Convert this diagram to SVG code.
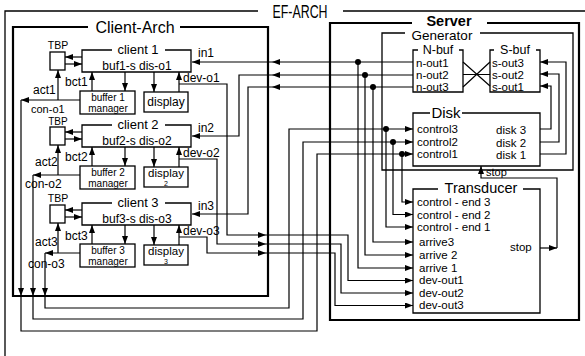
<svg xmlns="http://www.w3.org/2000/svg" width="585" height="356" viewBox="0 0 585 356">
<defs>
<marker id="a" viewBox="0 0 8 6" refX="8" refY="3" markerWidth="8" markerHeight="6" markerUnits="userSpaceOnUse" orient="auto"><path d="M0,0 L8,3 L0,6 z" fill="#000"/></marker>
</defs>
<style>
.b{fill:none;stroke:#000;stroke-width:1.3}
.k{fill:none;stroke:#000;stroke-width:2.2}
.c{fill:none;stroke:#000;stroke-width:1.2;marker-end:url(#a)}
.l{fill:none;stroke:#000;stroke-width:1.2}
text{font-family:"Liberation Sans",Arial,sans-serif;fill:#000}
.s{font-size:12px}
.m{font-size:11.5px}
.mid{text-anchor:middle}
</style>
<rect width="585" height="356" fill="#fff"/>

<g id="ef-arch">
<path class="b" d="M258,11 H5 V360 M343,11 H590"/>
<text x="300" y="18" class="mid" font-size="18" textLength="55" lengthAdjust="spacingAndGlyphs">EF-ARCH</text>
</g>

<g id="client-arch">
<path class="k" d="M88,27 H13 V296 H268 V27 H180"/>
<text x="135" y="33" class="mid" font-size="16">Client-Arch</text>
</g>

<g id="client1">
<path class="b" d="M112,50 H82 V72 H191 V50 H165"/>
<text x="138" y="54" class="mid" font-size="13">client 1</text>
<text x="137" y="70" class="mid s">buf1-s dis-o1</text>
</g>
<g id="tbp1"><rect class="b" x="50" y="52" width="15" height="18"/><text x="58" y="49" class="mid" font-size="10.5">TBP</text></g>
<g id="buffer1"><rect class="b" x="80" y="91" width="55" height="23"/><text class="mid" font-size="10"><tspan x="108" y="101">buffer 1</tspan><tspan x="108" y="112.3">manager</tspan></text></g>
<g id="display1"><rect class="b" x="144" y="92" width="44" height="20"/><text x="166" y="106" class="mid s">display</text></g>

<g id="client2">
<path class="b" d="M112,125 H82 V147 H191 V125 H165"/>
<text x="138" y="129" class="mid" font-size="13">client 2</text>
<text x="137" y="145" class="mid s">buf2-s dis-o2</text>
</g>
<g id="tbp2"><rect class="b" x="50" y="127" width="15" height="18"/><text x="58" y="124.5" class="mid" font-size="10">TBP</text></g>
<g id="buffer2"><rect class="b" x="80" y="166" width="55" height="23"/><text class="mid" font-size="10"><tspan x="108" y="176">buffer 2</tspan><tspan x="108" y="187.3">manager</tspan></text></g>
<g id="display2"><rect class="b" x="144" y="167" width="44" height="20"/><text class="mid" font-size="11.5"><tspan x="166" y="177">display</tspan><tspan x="166" y="186" font-size="7">2</tspan></text></g>

<g id="client3">
<path class="b" d="M112,203 H82 V225 H191 V203 H165"/>
<text x="138" y="207" class="mid" font-size="13">client 3</text>
<text x="137" y="223" class="mid s">buf3-s dis-o3</text>
</g>
<g id="tbp3"><rect class="b" x="50" y="205" width="15" height="18"/><text x="58" y="202" class="mid" font-size="10.5">TBP</text></g>
<g id="buffer3"><rect class="b" x="80" y="244" width="55" height="23"/><text class="mid" font-size="10"><tspan x="108" y="254">buffer 3</tspan><tspan x="108" y="265.3">manager</tspan></text></g>
<g id="display3"><rect class="b" x="144" y="245" width="44" height="20"/><text class="mid" font-size="11.5"><tspan x="166" y="255">display</tspan><tspan x="166" y="264" font-size="7">3</tspan></text></g>

<g id="server">
<path class="k" d="M412,23 H330 V320 H579 V23 H487"/>
<text x="449" y="25.5" class="mid" font-size="14.5" font-weight="bold">Server</text>
</g>
<g id="generator">
<path class="b" d="M405,33 H382 V170 H573 V33 H480"/>
<text x="442" y="40" class="mid" font-size="13.5">Generator</text>
</g>
<g id="n-buf">
<path class="b" d="M418,50 H413 V92 H463 V50 H459"/>
<text x="438" y="53.5" class="mid" font-size="12.5">N-buf</text>
<text class="m"><tspan x="416" y="66.5">n-out1</tspan><tspan x="416" y="78.5">n-out2</tspan><tspan x="416" y="90.5">n-out3</tspan></text>
</g>
<g id="s-buf">
<path class="b" d="M494,50 H490 V92 H540 V50 H536"/>
<text x="515" y="53.5" class="mid" font-size="12.5">S-buf</text>
<text class="m"><tspan x="492" y="66.5">s-out3</tspan><tspan x="492" y="78.5">s-out2</tspan><tspan x="492" y="90.5">s-out1</tspan></text>
</g>
<g id="disk">
<path class="b" d="M430,113 H413 V166 H540 V113 H462"/>
<text x="446" y="118" class="mid" font-size="15">Disk</text>
<text class="m"><tspan x="417" y="133">control3</tspan><tspan x="417" y="146">control2</tspan><tspan x="417" y="158">control1</tspan></text>
<text class="m"><tspan x="496" y="134">disk 3</tspan><tspan x="496" y="147">disk 2</tspan><tspan x="496" y="159">disk 1</tspan></text>
</g>
<g id="transducer">
<path class="b" d="M438,189 H413 V313 H540 V189 H523"/>
<text x="481" y="193" class="mid" font-size="14.5">Transducer</text>
<text class="m"><tspan x="417" y="206">control - end 3</tspan><tspan x="417" y="218.5">control - end 2</tspan><tspan x="417" y="231">control - end 1</tspan><tspan x="419" y="246">arrive3</tspan><tspan x="419" y="259">arrive 2</tspan><tspan x="419" y="271.5">arrive 1</tspan><tspan x="419" y="284">dev-out1</tspan><tspan x="419" y="296.5">dev-out2</tspan><tspan x="419" y="309">dev-out3</tspan></text>
<text x="510" y="251" class="m">stop</text>
</g>

<g id="connectors">
<path class="c" d="M82,57 H65"/>
<path class="c" d="M65,64 H82"/>
<path class="c" d="M92,91 V72"/>
<path class="c" d="M125,72 V91"/>
<path class="c" d="M154,72 V92"/>
<path class="c" d="M179,92 V72"/>
<path class="c" d="M179,84 H227 V235 H266"/>
<path class="c" d="M58,100 V70"/>
<path class="c" d="M80,100 H21"/>
<path class="c" d="M21,100 V296"/>
<path class="c" d="M82,132 H65"/>
<path class="c" d="M65,139 H82"/>
<path class="c" d="M92,166 V147"/>
<path class="c" d="M125,147 V166"/>
<path class="c" d="M154,147 V167"/>
<path class="c" d="M179,167 V147"/>
<path class="c" d="M179,159 H217 V244 H266"/>
<path class="c" d="M58,175 V145"/>
<path class="c" d="M80,175 H33"/>
<path class="c" d="M33,175 V296"/>
<path class="c" d="M82,210 H65"/>
<path class="c" d="M65,217 H82"/>
<path class="c" d="M92,244 V225"/>
<path class="c" d="M125,225 V244"/>
<path class="c" d="M154,225 V245"/>
<path class="c" d="M179,245 V225"/>
<path class="c" d="M179,237 H207 V253 H266"/>
<path class="c" d="M58,253 V223"/>
<path class="c" d="M80,253 H45"/>
<path class="c" d="M45,253 V296"/>
<path class="c" d="M21,296 V331 H317 V154 H413"/>
<path class="c" d="M33,296 V319 H303 V142 H413"/>
<path class="c" d="M45,296 V308 H289 V129 H413"/>
<path class="c" d="M413,62 H272"/>
<path class="c" d="M272,62 H192"/>
<path class="c" d="M413,75 H272"/>
<path class="c" d="M272,75 H239 V136 H192"/>
<path class="c" d="M413,87 H272"/>
<path class="c" d="M272,87 H248 V214 H192"/>
<path class="c" d="M358,62 V268 H413"/>
<path class="c" d="M365,75 V255 H413"/>
<path class="c" d="M373,87 V242 H413"/>
<path class="c" d="M386,129 V227 H413"/>
<path class="c" d="M393,142 V214.5 H413"/>
<path class="c" d="M402,154 V202 H413"/>
<path class="c" d="M266,235 H348 V280.5 H413"/>
<path class="c" d="M266,244 H341 V293 H413"/>
<path class="c" d="M266,253 H335 V305.5 H413"/>
<path class="l" d="M463,62 L490,86 M463,87 L490,62 M463,74.5 H490"/>
<path class="c" d="M540,129 H551 V86 H540"/>
<path class="c" d="M540,142 H559 V74 H540"/>
<path class="c" d="M540,154 H566 V62 H540"/>
<path class="c" d="M540,248 H557"/>
<path class="c" d="M557,248 V178 H481 V166"/>
<g fill="#000">
<circle cx="358" cy="62" r="3"/>
<circle cx="365" cy="75" r="3"/>
<circle cx="373" cy="87" r="3"/>
<circle cx="386" cy="129" r="3"/>
<circle cx="393" cy="142" r="3"/>
<circle cx="402" cy="154" r="3"/>
</g>
</g>

<g id="labels">
<text x="198" y="57" class="s">in1</text>
<text x="198" y="132" class="s">in2</text>
<text x="198" y="210" class="s">in3</text>
<text x="183" y="82" class="s">dev-o1</text>
<text x="183" y="157" class="s">dev-o2</text>
<text x="183" y="235" class="s">dev-o3</text>
<text x="33" y="94" class="s">act1</text>
<text x="35" y="166" class="s">act2</text>
<text x="35" y="246" class="s">act3</text>
<text x="65" y="86" class="s">bct1</text>
<text x="65" y="161" class="s">bct2</text>
<text x="65" y="240" class="s">bct3</text>
<text x="31" y="112.5" font-size="11">con-o1</text>
<text x="25" y="188" class="s">con-o2</text>
<text x="28" y="268" class="s">con-o3</text>
<text x="486" y="176" font-size="11">stop</text>
</g>
</svg>
